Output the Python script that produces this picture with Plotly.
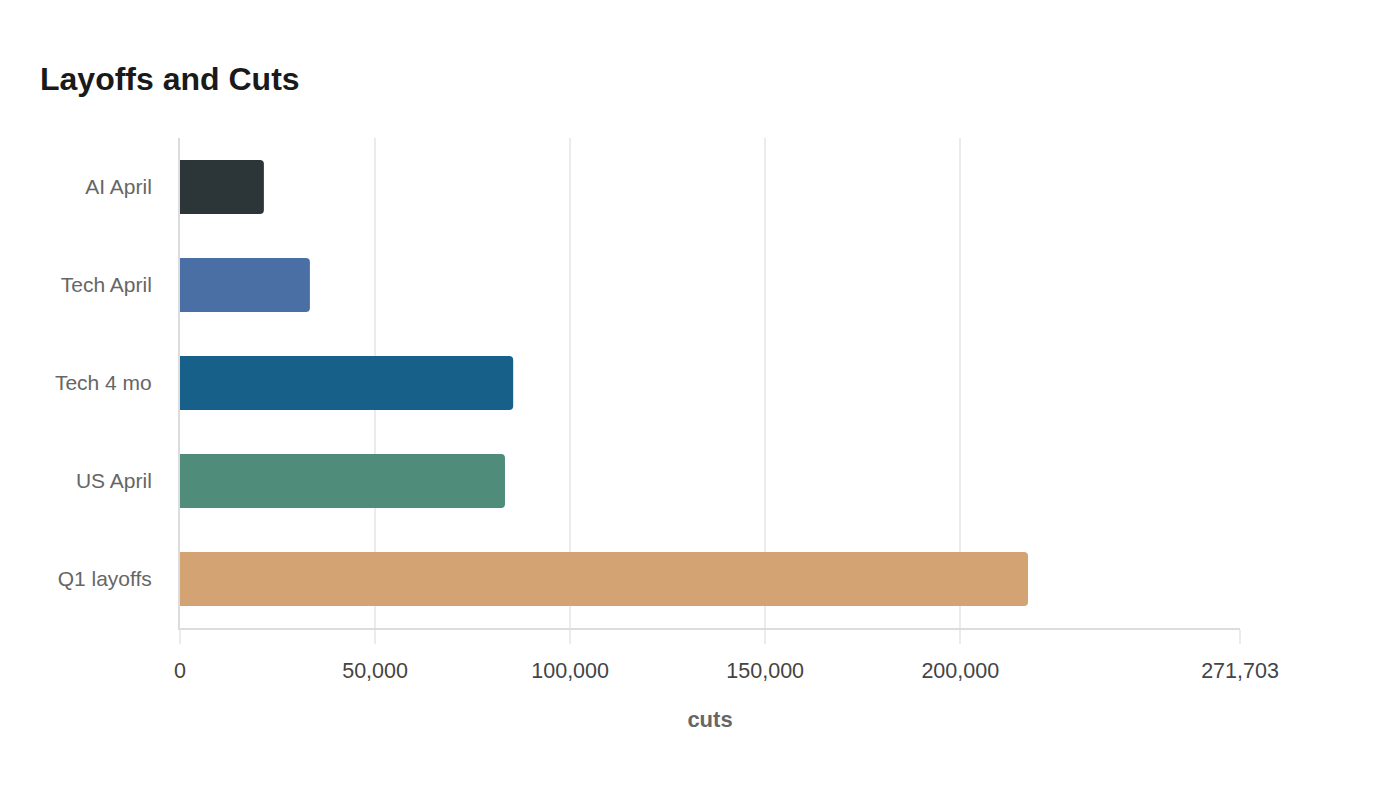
import plotly.graph_objects as go

categories = ["AI April", "Tech April", "Tech 4 mo", "US April", "Q1 layoffs"]
cuts = [21500, 33300, 85400, 83300, 217362]
bar_colors = ["#2c3538", "#4a6fa5", "#17608a", "#4f8c7a", "#d4a373"]
tick_vals = [0, 50000, 100000, 150000, 200000, 271703]
tick_text = ["0", "50,000", "100,000", "150,000", "200,000", "271,703"]
x_max = 271703

font = "Liberation Sans, Arial, sans-serif"

fig = go.Figure()
fig.add_trace(go.Bar(
    y=categories,
    x=cuts,
    orientation="h",
    marker=dict(color=bar_colors, cornerradius=4, line=dict(width=0)),
    hovertemplate="%{y}: %{x:,}<extra></extra>",
))

fig.update_layout(
    width=1400, height=800,
    paper_bgcolor="white", plot_bgcolor="white",
    margin=dict(l=172, r=168, t=130, b=180),
    bargap=0.45,
    showlegend=False,
    title=dict(text="<b>Layoffs and Cuts</b>", x=32 / 1400, xanchor="left",
               y=1 - 71 / 800, yanchor="middle", yref="container",
               font=dict(size=32, color="#1a1a1a", family=font)),
    font=dict(family=font),
)

fig.update_xaxes(
    range=[0, x_max], tickvals=tick_vals, ticktext=tick_text,
    showgrid=True, gridcolor="#ebebeb", gridwidth=1.5,
    showline=True, linecolor="#dcdcdc", linewidth=1.5,
    ticks="outside", ticklen=14, tickcolor="#ebebeb", tickwidth=1.5,
    ticklabelstandoff=8,
    tickfont=dict(size=21.5, color="#444444"),
    zeroline=False,
    title=dict(text="<b>cuts</b>", font=dict(size=22, color="#666666"), standoff=30),
)
fig.update_yaxes(
    autorange="reversed",
    showline=True, linecolor="#dcdcdc", linewidth=2,
    showgrid=False,
    ticks="", ticklabelstandoff=22,
    tickfont=dict(size=21, color="#666666"),
)

fig.write_html("out.html")
